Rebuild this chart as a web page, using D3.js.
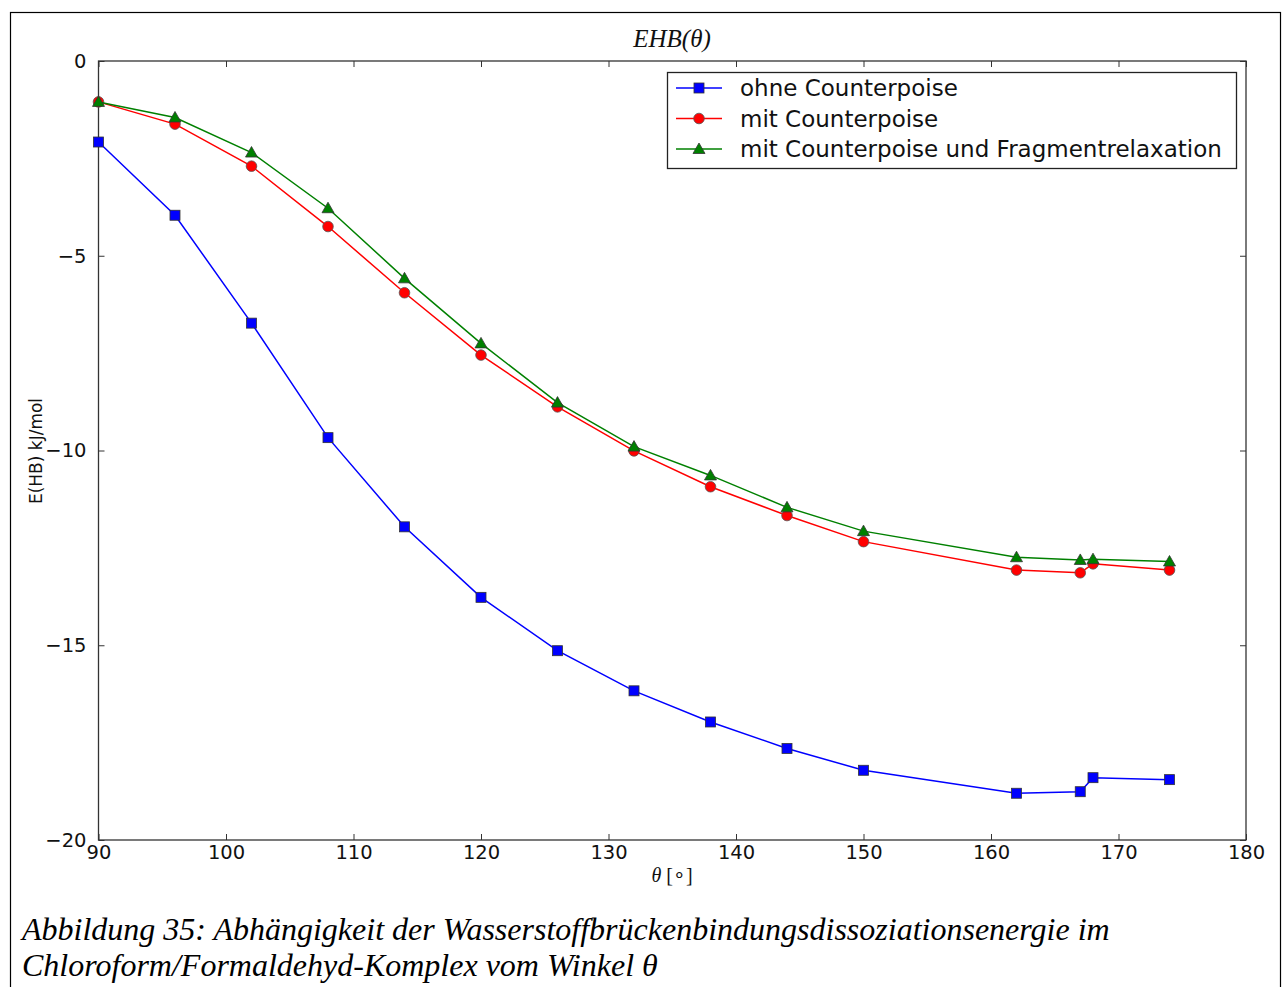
<!DOCTYPE html>
<html>
<head>
<meta charset="utf-8">
<script src="https://cdn.jsdelivr.net/npm/d3@7"></script>
<style>
  html, body { margin: 0; padding: 0; background: #fff; }
  svg { display: block; }
</style>
</head>
<body>
<svg id="chart" width="1284" height="987"></svg>
<script>
// Winkel θ in Grad
const angles = [90, 96, 102, 108, 114, 120, 126, 132, 138, 144, 150, 162, 167, 168, 174];
// E(HB) in kJ/mol
const ohneCP = [-2.08, -3.96, -6.73, -9.67, -11.96, -13.77, -15.14, -16.17, -16.97, -17.65, -18.21, -18.80, -18.76, -18.40, -18.45];
const mitCP = [-1.05, -1.62, -2.70, -4.25, -5.95, -7.55, -8.88, -10.01, -10.93, -11.67, -12.34, -13.07, -13.14, -12.91, -13.07];
const mitCPRelax = [-1.05, -1.45, -2.35, -3.78, -5.58, -7.25, -8.77, -9.90, -10.64, -11.46, -12.07, -12.74, -12.81, -12.79, -12.85];

const xTicks = [90, 100, 110, 120, 130, 140, 150, 160, 170, 180];
const yTicks = [0, -5, -10, -15, -20];
const seriesNames = ["ohne Counterpoise", "mit Counterpoise", "mit Counterpoise und Fragmentrelaxation"];

const svg = d3.select("#chart");

// Rahmen um die gesamte Abbildung
svg.append("rect")
  .attr("x", 10.5).attr("y", 12.5)
  .attr("width", 1270).attr("height", 990)
  .attr("fill", "none").attr("stroke", "#000").attr("stroke-width", 1.2);

const plot = { left: 98.5, right: 1246, top: 61, bottom: 840 };
const x = d3.scaleLinear().domain([90, 180]).range([plot.left, plot.right]);
const y = d3.scaleLinear().domain([-20, 0]).range([plot.bottom, plot.top]);

const g = svg.append("g");

// Achsen mit nach innen zeigenden Strichen
const tickFmt = d => d < 0 ? "\u2212" + Math.abs(d) : String(d);
const axStyle = sel => {
  sel.select(".domain").remove();
  sel.selectAll(".tick line").attr("stroke", "#333").attr("stroke-width", 1);
  sel.selectAll(".tick text").attr("fill", "#111")
    .style("font-family", "'DejaVu Sans', sans-serif").style("font-size", "19.5px");
};

g.append("g").attr("transform", `translate(0,${plot.bottom})`)
  .call(d3.axisBottom(x).tickValues(xTicks).tickSize(-6).tickPadding(5).tickFormat(d3.format("d")))
  .call(axStyle);
g.append("g").attr("transform", `translate(0,${plot.top})`)
  .call(d3.axisTop(x).tickValues(xTicks).tickSize(-6).tickFormat(""))
  .call(axStyle);
g.append("g").attr("transform", `translate(${plot.left},0)`)
  .call(d3.axisLeft(y).tickValues(yTicks).tickSize(-6).tickPadding(12).tickFormat(tickFmt))
  .call(axStyle);
g.append("g").attr("transform", `translate(${plot.right},0)`)
  .call(d3.axisRight(y).tickValues(yTicks).tickSize(-6).tickFormat(""))
  .call(axStyle);

g.append("rect")
  .attr("x", plot.left).attr("y", plot.top)
  .attr("width", plot.right - plot.left).attr("height", plot.bottom - plot.top)
  .attr("fill", "none").attr("stroke", "#333").attr("stroke-width", 1.3);

// Datenreihen
const series = [
  { name: seriesNames[0], values: ohneCP, color: "#0000ff", marker: "square" },
  { name: seriesNames[1], values: mitCP, color: "#ff0000", marker: "circle" },
  { name: seriesNames[2], values: mitCPRelax, color: "#008000", marker: "triangle" }
];

const line = d3.line().x(d => x(d[0])).y(d => y(d[1]));

function drawMarker(sel, type, color, cx, cy) {
  if (type === "square") {
    sel.append("rect").attr("x", cx - 5).attr("y", cy - 5).attr("width", 10).attr("height", 10)
      .attr("fill", color).attr("stroke", "#333").attr("stroke-width", 0.8);
  } else if (type === "circle") {
    sel.append("circle").attr("cx", cx).attr("cy", cy).attr("r", 5.3)
      .attr("fill", color).attr("stroke", "#555").attr("stroke-width", 0.8);
  } else {
    const s = 6;
    sel.append("path")
      .attr("d", `M${cx},${cy - s}L${cx + s},${cy + s * 0.75}L${cx - s},${cy + s * 0.75}Z`)
      .attr("fill", color).attr("stroke", "#333").attr("stroke-width", 0.8);
  }
}

series.forEach(s => {
  const pts = angles.map((a, i) => [a, s.values[i]]);
  g.append("path").datum(pts).attr("d", line)
    .attr("fill", "none").attr("stroke", s.color).attr("stroke-width", 1.5);
  const mg = g.append("g");
  pts.forEach(p => drawMarker(mg, s.marker, s.color, x(p[0]), y(p[1])));
});

// Legende
const leg = g.append("g");
leg.append("rect").attr("x", 667.5).attr("y", 72.5).attr("width", 569).attr("height", 96)
  .attr("fill", "#fff").attr("stroke", "#222").attr("stroke-width", 1.3);
series.forEach((s, i) => {
  const ly = 88 + i * 30.5;
  leg.append("line").attr("x1", 676).attr("x2", 722).attr("y1", ly).attr("y2", ly)
    .attr("stroke", s.color).attr("stroke-width", 1.5);
  drawMarker(leg, s.marker, s.color, 699, ly);
  leg.append("text").attr("x", 740).attr("y", ly + 8)
    .attr("fill", "#111")
    .style("font-family", "'DejaVu Sans', sans-serif").style("font-size", "23px")
    .text(s.name);
});

// Titel und Achsenbeschriftungen
svg.append("text").attr("x", 672).attr("y", 47).attr("text-anchor", "middle")
  .style("font-family", "'Liberation Serif', serif").style("font-style", "italic").style("font-size", "25px")
  .attr("fill", "#111")
  .text("EHB(θ)");

svg.append("text").attr("x", 672).attr("y", 882).attr("text-anchor", "middle")
  .style("font-family", "'Liberation Serif', serif").style("font-size", "20px")
  .attr("fill", "#111")
  .html('<tspan font-style="italic">θ</tspan> [∘]');

svg.append("text")
  .attr("transform", "translate(42,451) rotate(-90)")
  .attr("text-anchor", "middle")
  .style("font-family", "'DejaVu Sans', sans-serif").style("font-size", "17px")
  .attr("fill", "#111")
  .text("E(HB) kJ/mol");

// Bildunterschrift
const cap = svg.append("text")
  .style("font-family", "'Liberation Serif', 'Times New Roman', serif")
  .style("font-style", "italic").style("font-size", "32px").attr("fill", "#000");
cap.append("tspan").attr("x", 22).attr("y", 940)
  .text("Abbildung 35: Abhängigkeit der Wasserstoffbrückenbindungsdissoziationsenergie im");
cap.append("tspan").attr("x", 22).attr("y", 976)
  .text("Chloroform/Formaldehyd-Komplex vom Winkel θ");
</script>
</body>
</html>
